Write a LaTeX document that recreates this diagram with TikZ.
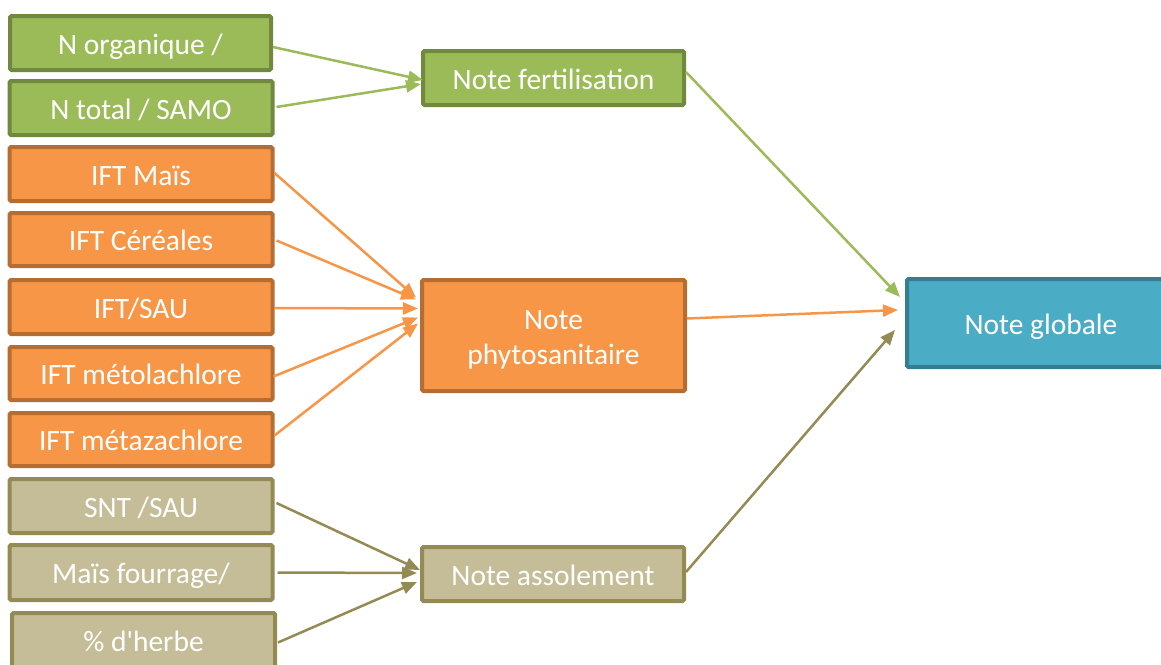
\documentclass[tikz,border=0pt]{standalone}
\usepackage{fontspec}
\setmainfont{Carlito}[Ligatures=TeXOff]
\usetikzlibrary{arrows.meta,calc}
\definecolor{gfill}{HTML}{9BBB59}
\definecolor{gline}{HTML}{71893F}
\definecolor{ofill}{HTML}{F79646}
\definecolor{oline}{HTML}{B66D31}
\definecolor{tfill}{HTML}{C4BD97}
\definecolor{tline}{HTML}{948A54}
\definecolor{bfill}{HTML}{4BACC6}
\definecolor{bline}{HTML}{357D91}
\begin{document}
\begin{tikzpicture}[x=1pt,y=-1pt,
  box/.style={rectangle, rounded corners=1.5pt, line width=4pt, text=white, align=center, inner sep=0pt,
    font=\fontsize{29.5}{35}\selectfont, text height=26pt, text depth=4pt},
  gbox/.style={box, draw=gline, fill=gfill},
  obox/.style={box, draw=oline, fill=ofill},
  tbox/.style={box, draw=tline, fill=tfill},
  bbox/.style={box, draw=bline, fill=bfill},
  arr/.style={line width=2.5pt, -{Triangle[length=15pt,width=12pt]}},
  garr/.style={arr, draw=gfill, fill=gfill},
  oarr/.style={arr, draw=ofill, fill=ofill},
  tarr/.style={arr, draw=tline, fill=tline}
]
\useasboundingbox (0,0) rectangle (1161,664);
\clip (0,0) rectangle (1161,664);
% left column
\node[gbox, minimum width=261pt, minimum height=54pt] (norg) at (140.5,43) {N organique /};
\node[gbox, minimum width=263pt, minimum height=54pt] (ntot) at (141,108) {N total / SAMO};
\node[obox, minimum width=263pt, minimum height=54pt] (mais) at (141,174) {IFT Maïs};
\node[obox, minimum width=263pt, minimum height=53pt] (cer) at (141,239.5) {IFT Céréales};
\node[obox, minimum width=263pt, minimum height=54pt] (sau) at (141,307) {IFT/SAU};
\node[obox, minimum width=263pt, minimum height=53pt] (metol) at (141,373.5) {IFT métolachlore};
\node[obox, minimum width=263pt, minimum height=53pt] (metaz) at (141,439.5) {IFT métazachlore};
\node[tbox, minimum width=263pt, minimum height=54pt] (snt) at (141,506) {SNT /SAU};
\node[tbox, minimum width=263pt, minimum height=55pt] (fourr) at (141,572.5) {Maïs fourrage/};
\node[tbox, minimum width=263pt, minimum height=55pt] (herbe) at (143.5,640.5) {\% d'herbe};
% middle column
\node[gbox, minimum width=261pt, minimum height=54pt] (fert) at (553.5,78) {Note fertilisation};
\node[obox, minimum width=263pt, minimum height=111pt, text height=61pt] (phyto) at (553.5,335.5) {Note\\phytosanitaire};
\node[tbox, minimum width=262pt, minimum height=54pt] (assol) at (553,574) {Note assolement};
% right
\node[bbox, minimum width=268pt, minimum height=88pt] (glob) at (1041,323) {Note globale};
% connectors
\draw[garr] ($(norg.east)+(0,4)$) -- ($(fert.west)+(2,2)$);
\draw[garr] ($(ntot.east)+(2,-1)$) -- ($(fert.west)+(0,6)$);
\draw[oarr] ($(mais.east)+(0,-1)$) -- ($(phyto.west)+(-4,-38)$);
\draw[oarr] ($(cer.east)+(2,1)$) -- ($(phyto.west)+(-4,-36)$);
\draw[oarr] ($(sau.east)+(0,1)$) -- ($(phyto.west)+(-2,-27)$);
\draw[oarr] ($(metol.east)+(-1,3)$) -- ($(phyto.west)+(-2,-18)$);
\draw[oarr] ($(metaz.east)+(0,-4)$) -- ($(phyto.west)+(-2,-12)$);
\draw[tarr] ($(snt.east)+(2,-3)$) -- ($(assol.west)+(0,-4)$);
\draw[tarr] ($(fourr.east)+(3,0)$) -- ($(assol.west)+(-3,-1)$);
\draw[tarr] ($(herbe.east)+(1,2)$) -- ($(assol.west)+(-3,8)$);
\draw[garr] ($(fert.east)+(0,-6)$) -- ($(glob.west)+(-5,-26)$);
\draw[oarr] ($(phyto.east)+(0,-17)$) -- ($(glob.west)+(-7,-13)$);
\draw[tarr] ($(assol.east)+(0,-2)$) -- ($(glob.west)+(-10,7)$);
\end{tikzpicture}
\end{document}
